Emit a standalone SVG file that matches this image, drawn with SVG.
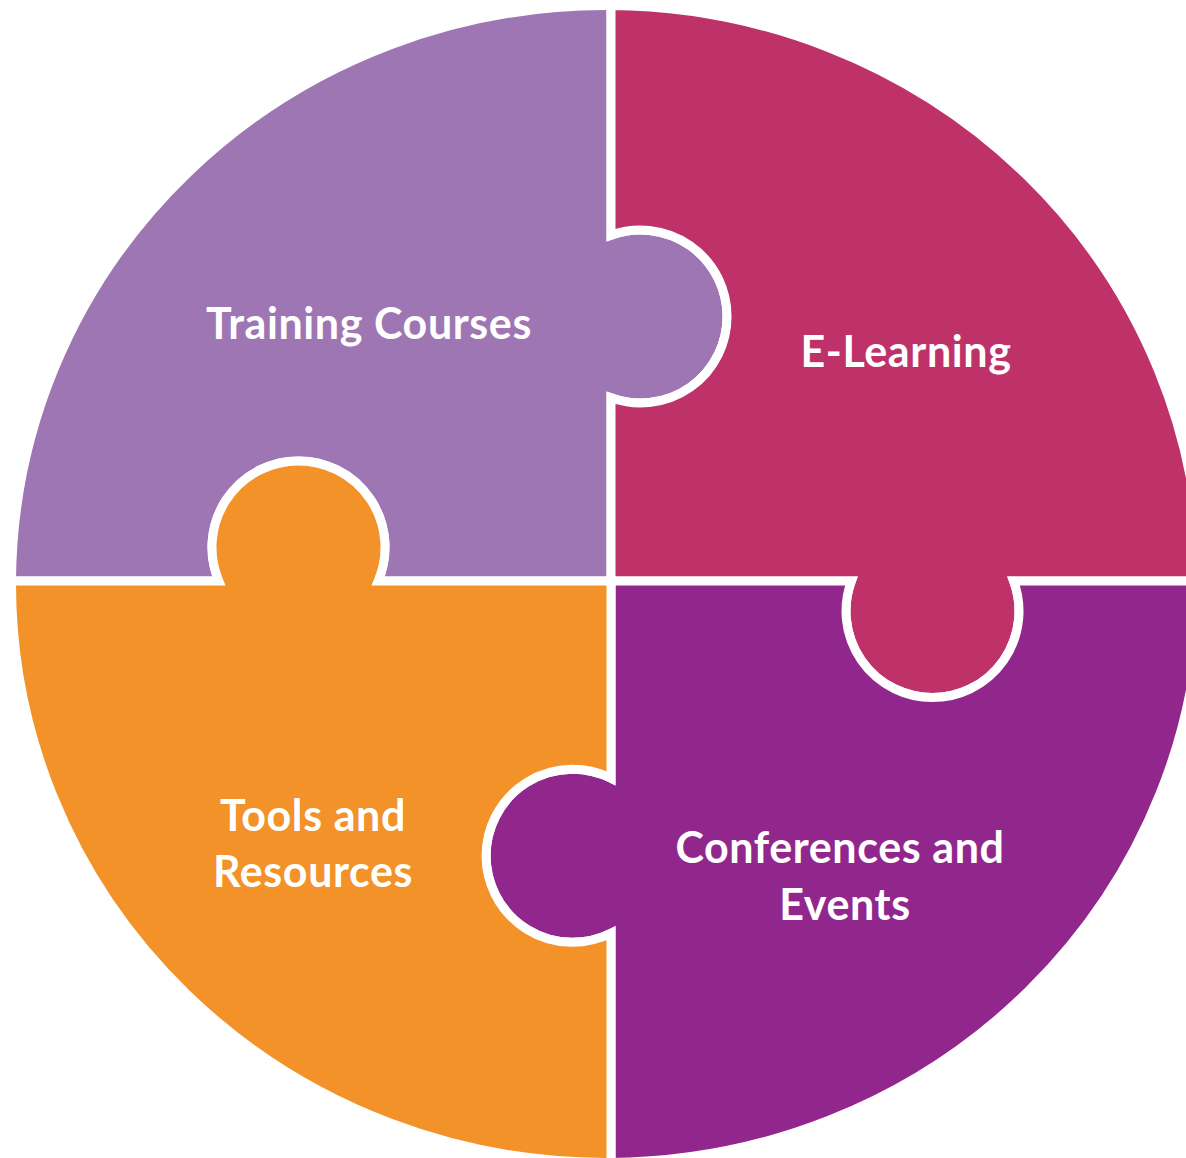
<svg xmlns="http://www.w3.org/2000/svg" width="1186" height="1158" viewBox="0 0 1186 1158">
<style>
.piece{stroke:#FFFFFF;stroke-width:9;stroke-linejoin:miter;stroke-miterlimit:4}
.lbl{font-family:Lato,"Open Sans","Liberation Sans",sans-serif;font-weight:bold;font-size:43px;letter-spacing:0.6px;fill:#FFFFFF;text-anchor:middle}
</style>
<rect x="0" y="0" width="1186" height="1158" fill="#FFFFFF"/>
<g id="training-courses">
<path class="piece" fill="#9E76B3" d="M11.51,581 A594.5,578.5 0 0 1 611,5.52 L611,235.2 A86.5,86.5 0 1 1 611,397.8 L611,581 L378.2,581 A86.5,86.5 0 1 0 218.8,581 Z"/>
<text class="lbl" x="369" y="339">Training Courses</text>
</g>
<g id="e-learning">
<path class="piece" fill="#BE3169" d="M611,5.52 A594.5,578.5 0 0 1 1200.49,581 L1013.6,581 A86.5,86.5 0 1 1 851.4,581 L611,581 L611,397.8 A86.5,86.5 0 1 0 611,235.2 Z"/>
<text class="lbl" x="906" y="367">E-Learning</text>
</g>
<g id="conferences-events">
<path class="piece" fill="#91278D" d="M1200.49,581 A594.5,578.5 0 0 1 611,1162.48 L611,933.3 A86.5,86.5 0 1 1 611,778.3 L611,581 L851.4,581 A86.5,86.5 0 1 0 1013.6,581 Z"/>
<text class="lbl" x="840" y="863">Conferences and</text>
<text class="lbl" x="845" y="920">Events</text>
</g>
<g id="tools-resources">
<path class="piece" fill="#F39228" d="M611,1162.48 A594.5,578.5 0 0 1 11.51,581 L218.8,581 A86.5,86.5 0 1 1 378.2,581 L611,581 L611,778.3 A86.5,86.5 0 1 0 611,933.3 Z"/>
<text class="lbl" x="313" y="831">Tools and</text>
<text class="lbl" x="313" y="887">Resources</text>
</g>
<g id="connectors"></g>
</svg>
